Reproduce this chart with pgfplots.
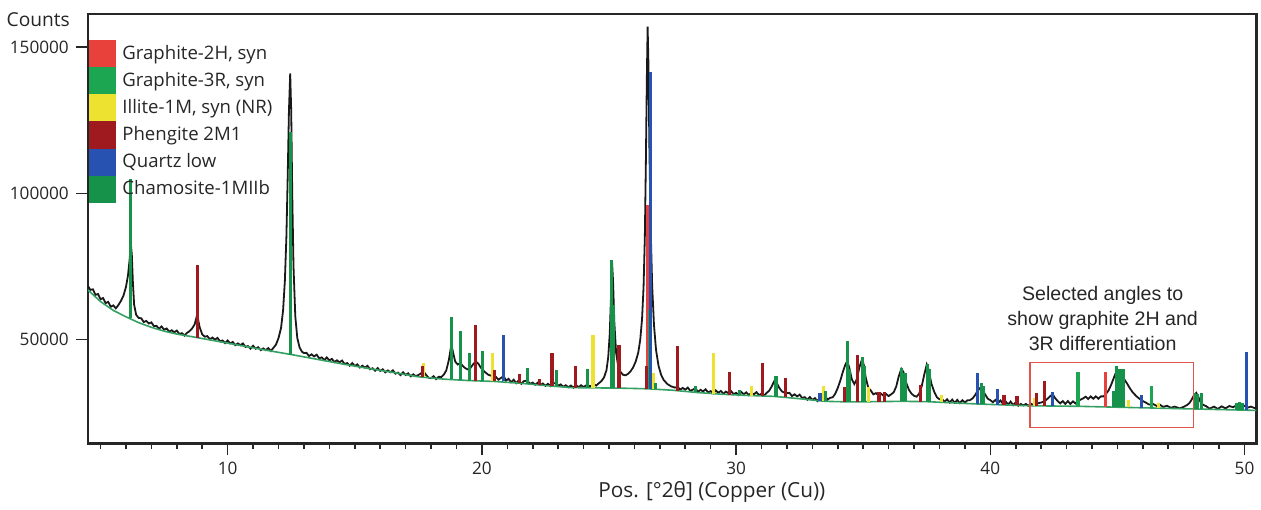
\documentclass[border=0pt]{standalone}
\usepackage{fontspec}
\setmainfont{Open Sans}
\newfontfamily\arialfont{Liberation Sans}
\usepackage{pgfplots}
\usepackage{pgfplotstable}
\pgfplotsset{compat=1.18}

\definecolor{cTwoH}{RGB}{232,64,58}
\definecolor{cThreeR}{RGB}{28,166,82}
\definecolor{cIllite}{RGB}{238,226,48}
\definecolor{cPheng}{RGB}{158,26,30}
\definecolor{cQuartz}{RGB}{40,82,178}
\definecolor{cCham}{RGB}{22,146,74}
\definecolor{cBase}{RGB}{52,160,98}
\definecolor{cBox}{RGB}{224,84,76}

% measured pattern (black trace)
\pgfplotstableread{
x y
4.50 68400
4.60 67000
4.70 67200
4.80 65300
4.90 65600
5.00 63800
5.10 64200
5.20 62500
5.30 62900
5.40 61200
5.50 61700
5.60 60700
5.70 61800
5.80 63200
5.90 65000
6.00 68000
6.08 72000
6.14 77000
6.19 83000
6.23 79000
6.27 70000
6.32 62000
6.40 58500
6.50 57400
6.60 57300
6.70 56000
6.80 56400
6.90 55500
7.00 55900
7.10 54600
7.20 54700
7.30 53700
7.40 54500
7.50 53400
7.60 53800
7.70 52700
7.80 53200
7.90 52500
8.00 53100
8.10 51900
8.20 52200
8.30 51400
8.40 52300
8.50 52900
8.60 53800
8.70 55200
8.78 57800
8.84 56800
8.90 54200
9.00 51800
9.10 51000
9.20 51200
9.30 50100
9.40 50700
9.50 50000
9.60 50600
9.70 49400
9.80 49700
9.90 48800
10.00 49700
10.10 48700
10.20 49200
10.30 48100
10.40 48700
10.50 48100
10.60 48700
10.70 47500
10.80 47800
10.90 46900
11.00 47900
11.10 46900
11.20 47400
11.30 46400
11.40 47000
11.50 46400
11.60 47100
11.70 46100
11.80 47200
11.90 48300
12.00 50500
12.10 54000
12.18 60000
12.25 70000
12.31 85000
12.36 105000
12.41 128000
12.46 141000
12.50 128000
12.54 100000
12.59 75000
12.66 58000
12.74 50500
12.83 47300
12.92 45900
13.00 45400
13.10 45490
13.20 44380
13.30 44970
13.40 44260
13.50 44850
13.60 43640
13.70 43930
13.80 43020
13.90 43910
14.00 42900
14.10 43410
14.20 42320
14.30 42930
14.40 42240
14.50 42850
14.60 41660
14.70 41970
14.80 41080
14.90 41990
15.00 41000
15.10 41530
15.20 40460
15.30 41090
15.40 40420
15.50 41050
15.60 39880
15.70 40210
15.80 39340
15.90 40270
16.00 39300
16.10 39860
16.20 38820
16.30 39480
16.40 38840
16.50 39500
16.60 38360
16.70 38720
16.80 37880
16.90 38840
17.00 37900
17.10 38480
17.20 37460
17.30 38140
17.40 37520
17.50 37900
17.60 38400
17.69 39300
17.78 38200
17.90 37000
18.00 36800
18.10 37500
18.20 36500
18.30 37300
18.40 37200
18.50 38000
18.60 39500
18.70 43000
18.80 48300
18.87 45500
18.95 42500
19.05 41500
19.15 42000
19.25 41000
19.35 40200
19.45 39800
19.55 40300
19.65 41500
19.76 42500
19.86 41800
19.95 40500
20.05 39500
20.15 38700
20.25 38000
20.35 37700
20.45 37300
20.55 37300
20.65 36300
20.75 36900
20.86 37500
20.95 36000
21.05 36600
21.15 35400
21.25 36300
21.35 35100
21.45 36100
21.55 34900
21.65 35800
21.78 36000
21.90 34900
22.00 35300
22.10 34600
22.20 35300
22.30 34500
22.40 35000
22.50 34200
22.60 34900
22.70 34100
22.80 35000
22.92 35200
23.00 34200
23.10 34700
23.20 33900
23.30 34400
23.40 33700
23.50 34300
23.60 33600
23.70 34500
23.80 33700
23.90 34400
24.00 33800
24.15 34600
24.25 34000
24.40 34700
24.50 34300
24.60 35100
24.70 35800
24.80 37000
24.90 39500
24.97 44000
25.03 52000
25.08 65000
25.12 76600
25.16 70000
25.21 56000
25.28 45500
25.36 41000
25.45 39000
25.55 38000
25.65 37800
25.75 38300
25.85 39200
25.95 40500
26.05 42500
26.15 45500
26.23 50000
26.30 57000
26.36 68000
26.41 85000
26.45 110000
26.49 140000
26.52 157000
26.55 145000
26.59 115000
26.64 88000
26.70 68000
26.77 55000
26.85 46500
26.95 41000
27.05 38000
27.15 36200
27.30 34800
27.45 34000
27.60 33600
27.70 33900
27.80 32850
27.90 33500
28.00 32900
28.10 33600
28.20 32500
28.30 32900
28.40 33400
28.50 32100
28.60 32840
28.70 32280
28.80 33020
28.90 31960
29.00 32400
29.10 31640
29.20 32680
29.30 31820
29.40 32460
29.50 31500
29.60 32240
29.70 31680
29.80 32420
29.90 31360
30.00 31800
30.10 31070
30.20 32140
30.30 31310
30.40 31980
30.50 31050
30.60 31820
30.70 31290
30.80 32060
30.90 31030
31.00 31500
31.10 30820
31.20 31800
31.30 32500
31.40 34000
31.50 35800
31.60 35200
31.70 33500
31.80 32300
31.90 31900
32.00 31700
32.10 31800
32.20 30700
32.30 31300
32.40 30600
32.50 31200
32.60 30020
32.70 30340
32.80 29460
32.90 30380
33.00 29400
33.10 30000
33.20 29000
33.30 30200
33.40 31200
33.50 30600
33.60 29500
33.70 30100
33.80 30300
33.90 31500
34.00 33500
34.10 36000
34.20 39000
34.30 41500
34.37 42600
34.45 40500
34.55 36500
34.65 34800
34.75 36500
34.85 40500
34.95 43200
35.02 41500
35.10 37000
35.20 33500
35.30 32600
35.40 31300
35.50 31700
35.60 31000
35.70 31500
35.80 30800
35.90 31400
36.00 30700
36.10 31300
36.20 32000
36.30 34000
36.40 37500
36.50 40000
36.58 39000
36.68 35500
36.80 32800
36.90 31500
37.00 30800
37.10 30500
37.20 31500
37.30 34000
37.40 38000
37.50 41500
37.58 39500
37.68 35000
37.80 32000
37.90 30300
38.00 29600
38.10 29700
38.20 28800
38.30 29600
38.40 28500
38.50 29500
38.60 28400
38.70 29400
38.80 28300
38.90 29300
39.00 28500
39.10 29300
39.20 29300
39.30 29900
39.40 31000
39.50 32500
39.60 33500
39.68 33200
39.78 31500
39.90 29800
40.00 29300
40.10 28600
40.20 29400
40.30 28300
40.40 29200
40.50 28000
40.60 28900
40.70 27800
40.80 28800
40.90 27600
41.00 28600
41.10 27400
41.20 28000
41.30 27500
41.40 28000
41.50 27400
41.60 28100
41.70 27600
41.80 28100
41.90 28300
42.00 28500
42.10 28800
42.20 29400
42.30 30200
42.40 31000
42.46 31200
42.55 30000
42.65 29000
42.75 28200
42.85 29000
42.95 28000
43.05 29000
43.15 28000
43.25 28900
43.35 28200
43.45 29000
43.55 29500
43.65 29900
43.75 30500
43.85 29700
43.95 30600
44.05 29800
44.15 30600
44.25 29800
44.35 30600
44.45 30600
44.55 31500
44.65 32600
44.75 34500
44.83 36300
44.92 38300
45.00 39200
45.10 38700
45.20 37500
45.30 36000
45.40 34700
45.48 33500
45.60 32000
45.74 30700
45.85 29900
46.00 29000
46.13 28400
46.25 27800
46.40 28000
46.55 27300
46.66 27800
46.80 27000
46.95 27400
47.10 26700
47.25 27100
47.45 26500
47.60 27000
47.75 27700
47.84 28400
47.92 29500
48.00 30800
48.10 31800
48.18 30500
48.26 28800
48.36 27800
48.50 27200
48.62 26400
48.80 27100
48.95 26300
49.10 27200
49.25 26500
49.40 27300
49.55 26900
49.70 27600
49.85 26800
50.00 27400
50.10 26700
50.25 27100
50.40 26600
50.47 26700
}\pattern

% fitted background (green line)
\pgfplotstableread{
x y
4.50 67000
5.00 63000
5.50 60000
6.00 57800
6.50 55800
7.00 54200
7.50 52900
8.00 51900
8.80 50700
9.50 49600
10.50 48000
11.50 46400
12.50 44900
13.50 43300
14.50 41700
15.50 40200
16.50 38800
17.50 37300
18.50 36500
19.50 36000
20.50 35700
21.50 35100
22.50 34300
23.50 33600
24.50 33500
25.50 33400
26.50 33200
27.50 32700
28.50 31900
29.50 31300
30.50 30900
31.50 30600
32.50 29800
33.50 28900
34.50 28700
35.50 28800
36.50 28900
37.50 28800
38.50 28400
39.50 28000
40.50 27700
41.50 27400
42.50 27300
43.50 27200
44.50 27000
45.50 26800
46.50 26600
47.50 26400
48.50 26200
49.50 26000
50.47 25800
}\background

% reference sticks: position, base, top
\pgfplotstableread{
x b t
26.52 33200 96000
44.54 27000 38800
}\twoH
\pgfplotstableread{
x b t
26.58 33200 60000
43.45 27200 38800
46.33 26700 34300
}\threeR
\pgfplotstableread{
x b t
17.69 37200 42100
20.43 35700 45400
24.37 33500 51700
26.74 33100 38700
29.11 31500 45400
30.59 30900 34100
33.43 29000 34300
35.20 28800 33800
38.08 28600 31200
41.75 27400 30200
45.45 26800 29500
46.60 26600 28500
}\illite
\pgfplotstableread{
x b t
8.82 50700 75600
17.66 37200 40900
19.76 35900 55100
20.50 35700 39500
21.47 35100 38400
22.26 34500 36600
22.76 34200 45400
23.67 33600 40900
25.39 33400 48300
26.46 33200 40900
27.69 32600 47700
29.74 31200 38800
31.05 30800 42000
31.93 30300 36900
34.28 28800 33800
34.77 28800 44900
35.62 28800 32000
35.85 28800 32000
37.26 28800 34600
40.54 27700 31200
41.05 27500 30600
41.81 27400 31600
42.14 27300 35800
}\phengite
\pgfplotstableread{
x b t
20.86 35700 51700
26.64 33200 141500
33.30 29000 31800
39.48 28000 38600
40.28 27700 33200
42.44 27300 32000
45.95 26700 31200
50.09 25900 45700
}\quartz
\pgfplotstableread{
x b t
6.19 57400 105000
12.48 44900 121000
18.79 36400 57700
19.16 36200 52800
19.52 36000 45400
20.03 35800 46000
21.78 35000 40300
22.92 34000 39500
24.15 33500 39800
25.11 33400 77300
25.16 33400 62000
26.82 33100 35300
28.39 32000 34200
30.13 31100 32900
31.57 30500 37500
33.52 28900 32400
34.39 28800 49400
34.45 28800 40000
34.96 28800 44100
35.03 28800 41000
36.51 28900 40300
36.64 28900 38600
37.52 28800 41800
37.62 28800 39800
39.65 28000 35200
39.72 28000 34000
44.85 27000 32400
44.96 27000 40900
45.09 27000 40000
45.22 27000 40000
48.04 26300 31800
48.15 26300 31500
48.30 26300 31800
49.67 26000 28400
49.80 26000 28800
49.93 26000 28400
}\chamosite

\pgfplotsset{
  sticks/.style={forget plot, draw=none, mark=none,
    error bars/.cd, y dir=plus, y explicit, error mark=none,
    error bar style={line width=1.6pt, draw=#1}},
  swatch/.style={legend image code/.code={%
    \fill[#1] (0pt,-6.6pt) rectangle (13pt,6.6pt);
    \path[draw=none, fill=none] (16.5pt,0pt);}}
}

\begin{document}
\begin{tikzpicture}
\begin{axis}[
  scale only axis, width=585pt, height=215pt,
  xmin=4.5, xmax=50.47, ymin=14500, ymax=161300,
  axis line style={line width=1.1pt, black!85},
  xtick={10,20,30,40,50}, xticklabels={10,20,30,40,50},
  minor xtick={5,6,7,8,9,11,12,13,14,15,16,17,18,19,21,22,23,24,25,26,27,28,29,
    31,32,33,34,35,36,37,38,39,41,42,43,44,45,46,47,48,49},
  ytick={50000,100000,150000}, yticklabels={50000,100000,150000},
  scaled x ticks=false, scaled y ticks=false,
  tick align=outside, tick pos=left,
  major tick length=6pt, minor tick length=3pt,
  xtick style={draw=black!85, line width=0.8pt},
  ytick style={draw=black!85, line width=0.8pt},
  tick label style={font=\fontsize{8.6}{10}\selectfont, text=black!85},
  xlabel={Pos. [°2θ] (Copper (Cu))},
  xlabel style={at={(rel axis cs:0.534,0)}, anchor=center, yshift=-24.5pt,
    font=\fontsize{10.4}{12}\selectfont, text=black!85},
  ylabel={Counts},
  ylabel style={rotate=-90, at={(rel axis cs:0,1)}, anchor=east,
    xshift=-5.5pt, yshift=-3pt, font=\fontsize{9.6}{11}\selectfont, text=black!85},
  legend style={at={(rel axis cs:0,1)}, anchor=north west, xshift=0.6pt, yshift=-13pt,
    draw=none, fill=none, inner sep=0pt, outer sep=0pt, row sep=0pt,
    font=\fontsize{9.3}{11}\selectfont, text=black!85,
    nodes={inner sep=0pt, anchor=west}},
  legend cell align=left,
]
\addplot[black!90, line width=0.9pt, forget plot] table[x=x, y=y] {\pattern};
\addplot[cBase, line width=0.8pt, forget plot] table[x=x, y=y] {\background};

\addplot[sticks=cTwoH] table[x=x, y=b, y error expr=\thisrow{t}-\thisrow{b}] {\twoH};
\addplot[sticks=cThreeR] table[x=x, y=b, y error expr=\thisrow{t}-\thisrow{b}] {\threeR};
\addplot[sticks=cIllite] table[x=x, y=b, y error expr=\thisrow{t}-\thisrow{b}] {\illite};
\addplot[sticks=cPheng] table[x=x, y=b, y error expr=\thisrow{t}-\thisrow{b}] {\phengite};
\addplot[sticks=cQuartz] table[x=x, y=b, y error expr=\thisrow{t}-\thisrow{b}] {\quartz};
\addplot[sticks=cCham] table[x=x, y=b, y error expr=\thisrow{t}-\thisrow{b}] {\chamosite};

\addlegendimage{swatch=cTwoH}
\addlegendentry{Graphite-2H, syn}
\addlegendimage{swatch=cThreeR}
\addlegendentry{Graphite-3R, syn}
\addlegendimage{swatch=cIllite}
\addlegendentry{Illite-1M, syn (NR)}
\addlegendimage{swatch=cPheng}
\addlegendentry{Phengite 2M1}
\addlegendimage{swatch=cQuartz}
\addlegendentry{Quartz low}
\addlegendimage{swatch=cCham}
\addlegendentry{Chamosite-1MIIb}

\draw[cBox, line width=0.8pt] (axis cs:41.55,42150) rectangle (axis cs:47.99,19970);
\node[font=\arialfont\fontsize{9.8}{12.5}\selectfont, align=center, text=black!85]
  at (axis cs:44.42,57200) {Selected angles to\\show graphite 2H and\\3R differentiation};

\coordinate (tl) at (rel axis cs:0,1);
\coordinate (bl) at (rel axis cs:0,0);
\end{axis}
\path ([yshift=7pt]tl) ([yshift=-31pt]bl);
\end{tikzpicture}
\end{document}
